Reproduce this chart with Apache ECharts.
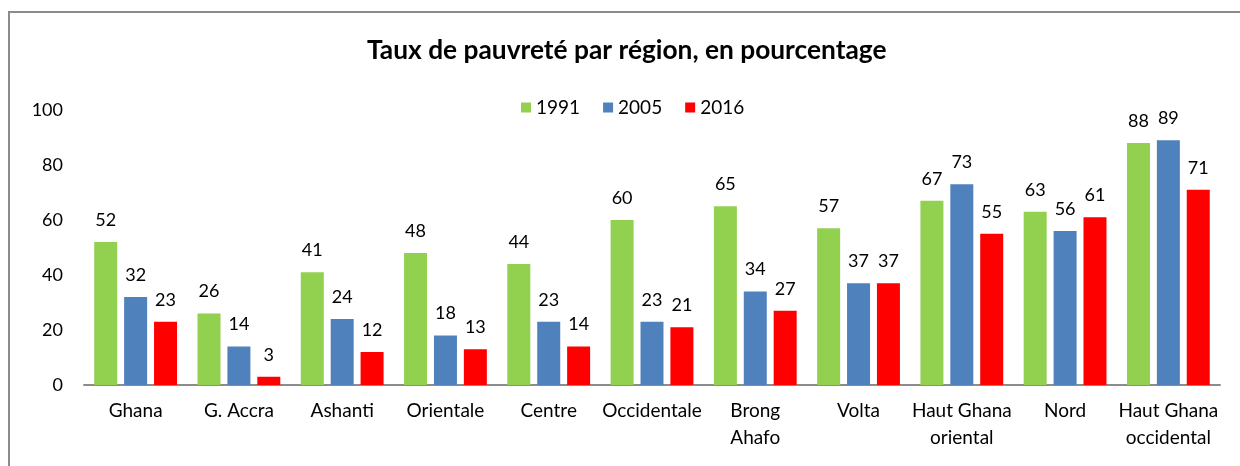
<!DOCTYPE html>
<html><head><meta charset="utf-8">
<script src="https://cdn.jsdelivr.net/npm/echarts@6/dist/echarts.min.js"></script>
<style>html,body{margin:0;padding:0;background:#fff}#c{width:1240px;height:466px}</style>
</head><body><div id="c"></div>
<script>
var categories = ['Ghana','G. Accra','Ashanti','Orientale','Centre','Occidentale','Brong\nAhafo','Volta','Haut Ghana\noriental','Nord','Haut Ghana\noccidental'];
var seriesNames = ['1991','2005','2016'];
var v1991 = [52,26,41,48,44,60,65,57,67,63,88];
var v2005 = [32,14,24,18,23,23,34,37,73,56,89];
var v2016 = [23,3,12,13,14,21,27,37,55,61,71];
var yTicks = [0,20,40,60,80,100];

var FONT = 'Lato';
var colors = ['#92D050','#4F81BD','#FF0000'];
var chart = echarts.init(document.getElementById('c'), null, {renderer:'canvas'});
function mk(name, data, color){
  return {name:name, type:'bar', data:data, barWidth:23, barGap:'30%',
    itemStyle:{color:color},
    label:{show:true, position:'top', distance:13, color:'#000', fontFamily:FONT, fontSize:18}};
}
chart.setOption({
  animation:false,
  textStyle:{fontFamily:FONT},
  title:{text:'Taux de pauvreté par région, en pourcentage', left:362, top:33,
    textStyle:{fontFamily:FONT, fontWeight:'bold', fontSize:26.3, color:'#000'}},
  legend:{data:seriesNames, top:93, left:516, itemWidth:10, itemHeight:10, itemGap:23,
    icon:'rect', textStyle:{fontFamily:FONT, fontSize:19, color:'#000'}},
  grid:{left:84, right:20, top:110, bottom:81},
  graphic:[{type:'polyline', shape:{points:[[9,466],[9,12],[1240,12]]}, style:{stroke:'#8c8c8c', lineWidth:2, fill:null}}],
  xAxis:{type:'category', data:categories,
    axisLine:{lineStyle:{color:'#8c8c8c', width:2}}, axisTick:{show:false},
    axisLabel:{color:'#000', fontFamily:FONT, fontSize:19, margin:12, lineHeight:27, interval:0}},
  yAxis:{type:'value', min:0, max:100, interval:20,
    axisLine:{show:false}, axisTick:{show:false}, splitLine:{show:false},
    axisLabel:{color:'#000', fontFamily:FONT, fontSize:18, margin:21}},
  series:[mk(seriesNames[0], v1991, colors[0]), mk(seriesNames[1], v2005, colors[1]), mk(seriesNames[2], v2016, colors[2])]
});
</script></body></html>
